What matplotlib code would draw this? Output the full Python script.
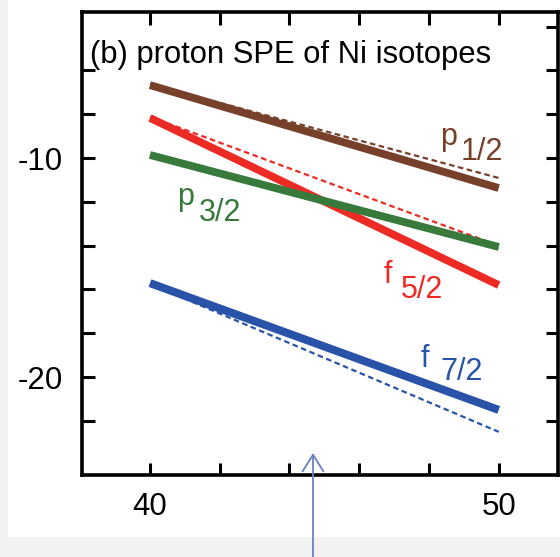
import numpy as np
import matplotlib.pyplot as plt
from matplotlib.patches import Rectangle

plt.rcParams['font.family'] = ['Liberation Sans', 'DejaVu Sans']

# neutron number range (end points of each line)
N = [40, 50]

# proton single-particle energies (MeV), solid = full calc, dotted = reference
p12_solid = [-6.67, -11.37]
p12_dot = [-6.62, -10.91]
f52_solid = [-8.17, -15.80]
f52_dot = [-8.12, -14.00]
p32_solid = [-9.86, -14.06]
p32_dot = [-9.86, -14.15]
f72_solid = [-15.71, -21.50]
f72_dot = [-15.75, -22.50]

brown = '#76402a'
red = '#ec2b25'
green = '#377a3b'
blue = '#2853a8'

fig = plt.figure(figsize=(5.6, 5.57), dpi=100)
fig.patch.set_facecolor('#f2f2f2')
fig.add_artist(Rectangle((8 / 560, 20 / 557), 1, 1, transform=fig.transFigure,
                         facecolor='white', edgecolor='none', zorder=-5))

ax = fig.add_axes([82 / 560, (557 - 475) / 557, (558 - 82) / 560, (475 - 11.5) / 557])
ax.set_facecolor('white')

# dotted (reference) lines first so solid lines sit on top
dots = (2.5, 1.6)
ax.plot(N, f52_dot, color=red, lw=1.6, dashes=dots)
ax.plot(N, p12_dot, color=brown, lw=1.6, dashes=dots)
ax.plot(N, p32_dot, color=green, lw=1.6, dashes=dots)
ax.plot(N, f72_dot, color=blue, lw=1.6, dashes=dots)

ax.plot(N, f52_solid, color=red, lw=5.6, solid_capstyle='butt')
ax.plot(N, p32_solid, color=green, lw=5.6, solid_capstyle='butt')
ax.plot(N, p12_solid, color=brown, lw=5.6, solid_capstyle='butt')
ax.plot(N, f72_solid, color=blue, lw=5.8, solid_capstyle='butt')

ax.set_xlim(38.05, 51.7)
ax.set_ylim(-24.47, -3.31)

xt = np.arange(40, 51, 2)
ax.set_xticks(xt)
ax.set_xticklabels([str(v) if v in (40, 50) else '' for v in xt])
yt = np.arange(-22, -3, 2)
ax.set_yticks(yt)
ax.set_yticklabels([str(v) if v in (-10, -20) else '' for v in yt])

ax.tick_params(direction='in', length=9, width=2.2, labelsize=22.5,
               top=True, right=True, pad=12)
ax.tick_params(axis='y', pad=14)
for s in ax.spines.values():
    s.set_linewidth(2.6)
# the -4 tick on the left side is not drawn in the figure
for t, v in zip(ax.yaxis.get_major_ticks(), yt):
    if v == -4:
        t.tick1line.set_visible(False)

ax.text(38.28, -5.66, '(b) proton SPE of Ni isotopes', fontsize=22.3,
        color='black', va='baseline')

lab = 22
ax.text(48.33, -9.41, 'p', color=brown, fontsize=lab, va='baseline')
ax.text(48.91, -10.09, '1/2', color=brown, fontsize=lab, va='baseline')
ax.text(40.78, -12.15, 'p', color=green, fontsize=lab, va='baseline')
ax.text(41.41, -12.88, '3/2', color=green, fontsize=lab, va='baseline')
ax.text(46.70, -15.71, 'f', color=red, fontsize=lab, va='baseline')
ax.text(47.18, -16.39, '5/2', color=red, fontsize=lab, va='baseline')
ax.text(47.76, -19.54, 'f', color=blue, fontsize=lab, va='baseline')
ax.text(48.33, -20.14, '7/2', color=blue, fontsize=lab, va='baseline')

# pointer arrow from below the axes
ax.annotate('', xy=(313, 104), xytext=(313, -2), xycoords='figure pixels',
            textcoords='figure pixels', annotation_clip=False,
            arrowprops=dict(arrowstyle='->,head_length=1.2,head_width=0.75',
                            color='#6b7fc4', lw=1.3, shrinkA=0, shrinkB=0))

fig.savefig('out.png', dpi=100, facecolor=fig.get_facecolor())
